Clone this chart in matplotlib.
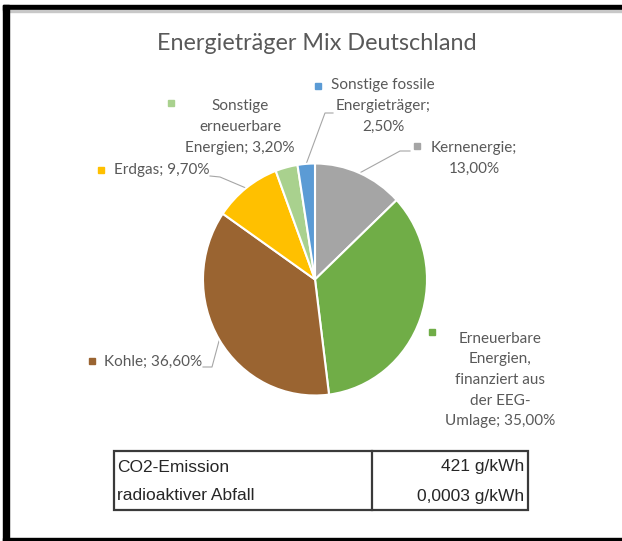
import numpy as np
import matplotlib
matplotlib.use('Agg')
from matplotlib import pyplot as plt
from matplotlib.patches import Rectangle

# Daten
namen = ['Kernenergie', 'Erneuerbare\nEnergien,\nfinanziert aus\nder EEG-\nUmlage', 'Kohle', 'Erdgas',
         'Sonstige\nerneuerbare\nEnergien', 'Sonstige fossile\nEnergieträger']
trenner = [';\n', '; ', '; ', '; ', '; ', ';\n']
anteile = [13.0, 35.0, 36.6, 9.7, 3.2, 2.5]
farben = ['#A5A5A5', '#70AD47', '#9A6431', '#FFC000', '#A9D18E', '#5B9BD5']

tabelle_links = ['CO2-Emission', 'radioaktiver Abfall']
tabelle_rechts = ['421 g/kWh', '0,0003 g/kWh']

W, H = 622, 541


def Y(y):
    # Bildkoordinate (von oben) -> Achsenkoordinate (von unten)
    return H - y


fig = plt.figure(figsize=(W / 100, H / 100), dpi=100)
ax = fig.add_axes([0, 0, 1, 1])
ax.set_xlim(0, W)
ax.set_ylim(0, H)
ax.axis('off')

# Kreis im eigenen Achsenfeld (im Original leicht gestreckt)
cx, cy, rx, ry = 315, Y(279.5), 112, 116
ax_pie = fig.add_axes([(cx - rx) / W, (cy - ry) / H, 2 * rx / W, 2 * ry / H])
keile, _ = ax_pie.pie(anteile, colors=farben, startangle=90, counterclock=False, radius=1,
                      wedgeprops=dict(edgecolor='white', linewidth=1.5))
ax_pie.set_aspect('auto')
ax_pie.set_xlim(-1, 1)
ax_pie.set_ylim(-1, 1)
ax_pie.axis('off')

textfarbe = '#595959'
schrift = 'Lato'

ax.text(317, Y(44), 'Energieträger Mix Deutschland', ha='center', va='center',
        fontsize=16.8, color=textfarbe, family=schrift)

# Beschriftungen: (Textposition, Ausrichtung, Kästchen, Führungslinie)
pos = [
    ((474, 158.5), 'center', (417, 146), [(400, 151), (410, 151)]),
    ((500, 380), 'center', (432, 332), None),
    ((104, 362), 'left', (92, 361), [(212, 367), (203, 367)]),
    ((114, 170), 'left', (101, 170), [(220, 177), (210, 176)]),
    ((240, 127), 'center', (171, 103), None),
    ((383, 106), 'center', (318, 86), [(325, 113), (333, 113)]),
]

for keil, name, tr, wert, farbe, (txt, ha, box, linie) in zip(keile, namen, trenner, anteile, farben, pos):
    label = name + tr + f'{wert:.2f}'.replace('.', ',') + '%'
    ax.text(txt[0], Y(txt[1]), label, ha=ha, va='center', multialignment='center',
            fontsize=11, color=textfarbe, family=schrift, linespacing=1.6)
    ax.plot(box[0], Y(box[1]), marker='s', markersize=4.5, color=farbe, linestyle='none')
    if linie is not None:
        mitte = np.deg2rad((keil.theta1 + keil.theta2) / 2)
        px = [cx + rx * np.cos(mitte)] + [p[0] for p in linie]
        py = [cy + ry * np.sin(mitte)] + [Y(p[1]) for p in linie]
        ax.plot(px, py, color='#A6A6A6', linewidth=0.8)

# Tabelle
ax.add_patch(Rectangle((114, Y(510)), 414, 59, fill=False, edgecolor='#3A3A3A', linewidth=1.6))
ax.plot([372, 372], [Y(510), Y(451)], color='#3A3A3A', linewidth=1.6)
for i, (links, rechts) in enumerate(zip(tabelle_links, tabelle_rechts)):
    yy = Y(467 + i * 29)
    ax.text(117, yy, links, ha='left', va='center', fontsize=12.5, color='#262626', family='Liberation Sans')
    ax.text(524, yy, rechts, ha='right', va='center', fontsize=12.5, color='#262626', family='Liberation Sans')

# Rahmen
ax.add_patch(Rectangle((3, Y(10)), W, 5, color='black'))
ax.add_patch(Rectangle((3, Y(12)), W, 2, color='#C8C8C8'))
ax.add_patch(Rectangle((3, 0), 6, H - 5, color='black'))
ax.add_patch(Rectangle((3, 0), W, 3.5, color='black'))

fig.savefig('out.png', dpi=100)
